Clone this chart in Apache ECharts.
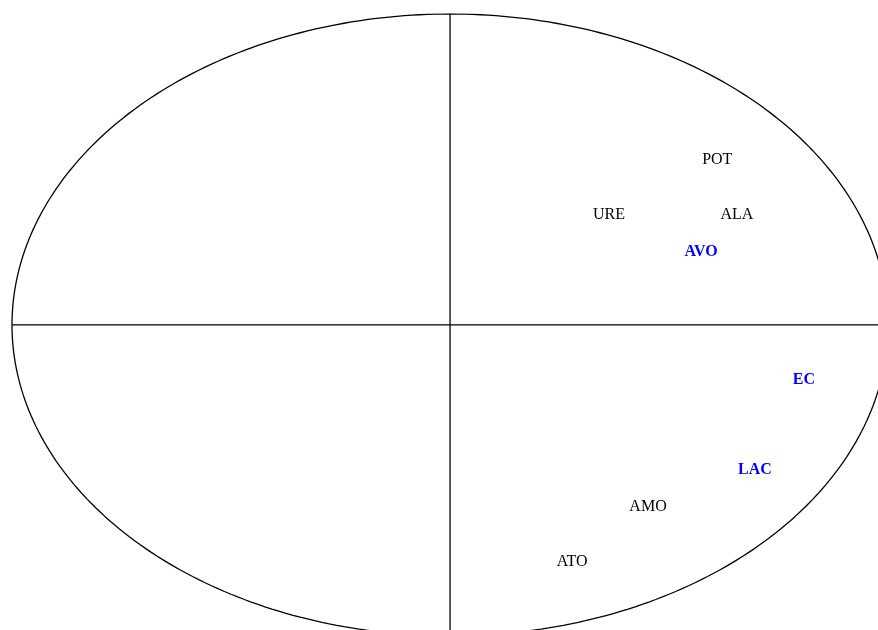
<!DOCTYPE html>
<html>
<head>
<meta charset="utf-8">
<script src="https://cdn.jsdelivr.net/npm/echarts@6/dist/echarts.min.js"></script>
<style>
  html, body { margin: 0; padding: 0; background: #fff; }
  #chart { width: 878px; height: 630px; }
</style>
</head>
<body>
<div id="chart"></div>
<script>
// variable names and their coordinates on the correlation circle
var names = ['POT', 'URE', 'ALA', 'AVO', 'EC', 'LAC', 'AMO', 'ATO'];
var dim1 = [0.610, 0.363, 0.655, 0.573, 0.808, 0.696, 0.452, 0.279];
var dim2 = [0.531, 0.354, 0.354, 0.235, -0.177, -0.466, -0.585, -0.762];
// supplementary variables drawn in blue bold
var supplementary = ['AVO', 'EC', 'LAC'];

// unit circle outline
var circle = [];
for (var i = 0; i <= 360; i++) {
  var a = i * Math.PI / 180;
  circle.push([Math.cos(a), Math.sin(a)]);
}

var points = names.map(function (n, i) {
  var sup = supplementary.indexOf(n) >= 0;
  return {
    name: n,
    value: [dim1[i], dim2[i]],
    label: {
      color: sup ? '#0000ff' : '#000000',
      fontWeight: sup ? 'bold' : 'normal'
    }
  };
});

var chart = echarts.init(document.getElementById('chart'));
var lineStyle = { color: '#000', width: 1.3 };

// the circle runs past the right and bottom edges of the picture,
// so the axes stop a little short of 1 there
chart.setOption({
  animation: false,
  grid: { left: 12, right: 0, top: 14, bottom: 0 },
  xAxis: { type: 'value', min: -1, max: 0.977, show: false },
  yAxis: { type: 'value', min: -0.981, max: 1, show: false },
  series: [
    {
      type: 'line', data: circle, showSymbol: false, silent: true,
      lineStyle: lineStyle
    },
    {
      type: 'line', data: [[-1, 0], [1, 0]], showSymbol: false, silent: true,
      lineStyle: lineStyle
    },
    {
      type: 'line', data: [[0, -1], [0, 1]], showSymbol: false, silent: true,
      lineStyle: lineStyle
    },
    {
      type: 'scatter', data: points, symbolSize: 0,
      itemStyle: { color: 'transparent', opacity: 1 },
      label: {
        show: true, position: 'inside', formatter: '{b}',
        fontFamily: 'Liberation Serif', fontSize: 16,
        textBorderWidth: 0, opacity: 1
      }
    }
  ]
});
</script>
</body>
</html>
